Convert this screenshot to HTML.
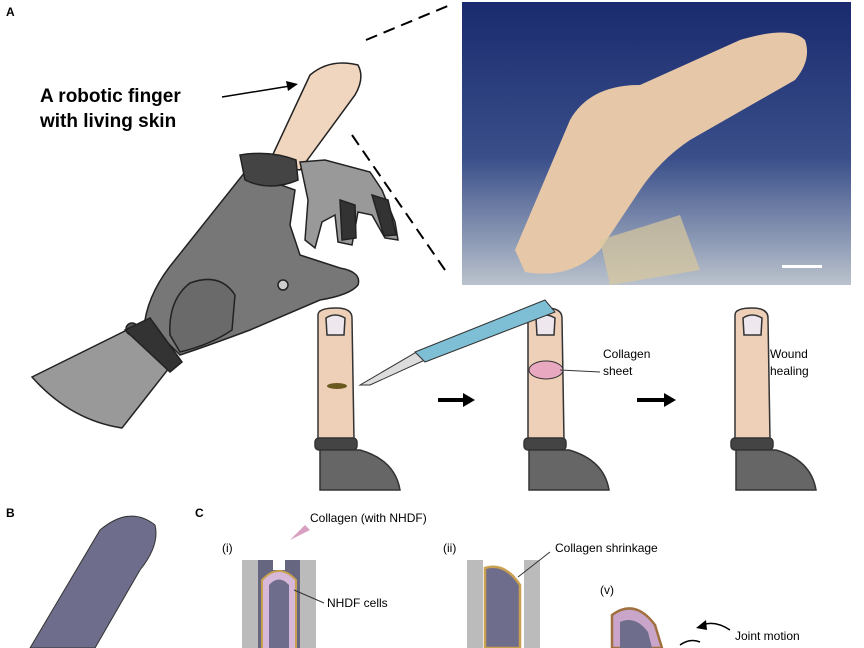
<!DOCTYPE html>
<html><head><meta charset="utf-8"><style>
body{margin:0;background:#fff;width:864px;height:648px;overflow:hidden;font-family:"Liberation Sans",sans-serif}
svg{display:block}
</style></head><body>
<svg width="864" height="648" viewBox="0 0 864 648" font-family="Liberation Sans, sans-serif">
<defs>
<linearGradient id="bg" x1="0" y1="0" x2="0" y2="1">
<stop offset="0" stop-color="#1a2a6e"/><stop offset="0.55" stop-color="#3a4f8a"/><stop offset="1" stop-color="#b9c2cc"/></linearGradient>
</defs>
<text x="6" y="16" font-size="12" font-weight="bold">A</text>
<text x="6" y="517" font-size="12" font-weight="bold">B</text>
<text x="195" y="517" font-size="12" font-weight="bold">C</text>
<!-- photo -->
<rect x="462" y="2" width="389" height="283" fill="url(#bg)"/>
<path d="M515 250 L570 120 Q590 85 640 85 L740 40 Q790 25 805 40 Q812 60 795 80 L690 140 Q660 160 640 190 L600 250 Q570 280 525 272 Z" fill="#e6c8a8"/>
<path d="M600 240 L680 215 L700 270 L610 285 Z" fill="#d8c89c" opacity=".7"/>
<rect x="782" y="265" width="40" height="3" fill="#fff"/>
<line x1="366" y1="40" x2="450" y2="5" stroke="#000" stroke-width="2" stroke-dasharray="12,7"/>
<line x1="352" y1="135" x2="445" y2="270" stroke="#000" stroke-width="2" stroke-dasharray="12,7"/>
<text x="40" y="102" font-size="19" font-weight="bold">A robotic finger</text>
<text x="40" y="127" font-size="19" font-weight="bold">with living skin</text>
<line x1="222" y1="97" x2="290" y2="86" stroke="#000" stroke-width="1.5"/>
<polygon points="298,84 286,81 288,91" fill="#000"/>
<!-- hand -->
<g stroke="#222" stroke-width="1.5">
<path d="M268 165 L310 75 Q330 58 358 65 Q365 78 355 95 L300 170 Z" fill="#f0d5bf"/>
<path d="M32 377 L127 330 L173 363 L122 428 Q70 420 32 377 Z" fill="#999"/>
<path d="M300 162 L325 160 L370 172 L382 190 L395 222 L398 240 L385 238 L372 215 L358 212 L352 245 L338 242 L335 215 L322 222 L315 248 L305 240 L308 200 Z" fill="#999"/>
<path d="M340 200 L355 205 L356 238 L342 240 Z" fill="#333"/>
<path d="M372 195 L388 200 L396 235 L384 236 Z" fill="#333"/>
<path d="M145 320 Q150 290 175 260 L245 172 L295 190 L290 225 L300 255 L340 268 Q362 272 358 285 Q350 295 320 300 L250 330 Q210 345 180 355 Z" fill="#777"/>
<path d="M240 155 Q270 150 296 160 L298 180 Q270 192 245 180 Z" fill="#444"/>
<path d="M170 335 Q168 300 190 283 Q220 272 235 295 L232 330 Q210 345 180 352 Z" fill="#6a6a6a"/>
<circle cx="283" cy="285" r="5" fill="#ccc"/>
<circle cx="132" cy="329" r="6" fill="#555"/>
<path d="M125 330 L150 318 L182 362 L170 372 Z" fill="#333"/>
</g>
<!-- small fingers -->
<g stroke="#333" stroke-width="1.5">
<path d="M318 315 Q318 308 336 308 Q352 308 352 318 L354 440 L318 440 Z" fill="#eecfb8"/>
<path d="M528 315 Q528 308 546 308 Q562 308 562 318 L564 440 L528 440 Z" fill="#eecfb8"/>
<path d="M735 315 Q735 308 752 308 Q768 308 768 318 L770 440 L735 440 Z" fill="#eecfb8"/>
<path d="M326 318 Q335 312 345 318 L344 335 L327 335 Z" fill="#eee8ee"/>
<path d="M536 318 Q545 312 555 318 L554 335 L537 335 Z" fill="#eee8ee"/>
<path d="M743 318 Q752 312 762 318 L761 335 L744 335 Z" fill="#eee8ee"/>
<rect x="315" y="438" width="42" height="12" rx="4" fill="#444"/>
<rect x="524" y="438" width="42" height="12" rx="4" fill="#444"/>
<rect x="731" y="438" width="42" height="12" rx="4" fill="#444"/>
<path d="M320 450 L360 450 Q395 460 400 490 L320 490 Z" fill="#666"/>
<path d="M529 450 L569 450 Q604 460 609 490 L529 490 Z" fill="#666"/>
<path d="M736 450 L776 450 Q811 460 816 490 L736 490 Z" fill="#666"/>
</g>
<ellipse cx="337" cy="386" rx="10" ry="3" fill="#6a5a20"/>
<ellipse cx="546" cy="370" rx="17" ry="9" fill="#e8a8c0" stroke="#333"/>
<path d="M360 385 L420 350 L425 360 L370 385 Z" fill="#ddd" stroke="#333"/>
<path d="M415 352 L545 300 L555 312 L425 362 Z" fill="#7fbfd6" stroke="#333"/>
<path d="M438 400 L465 400" stroke="#000" stroke-width="4"/><polygon points="475,400 463,393 463,407"/>
<path d="M637 400 L665 400" stroke="#000" stroke-width="4"/><polygon points="676,400 664,393 664,407"/>
<text x="603" y="358" font-size="12">Collagen</text><text x="603" y="375" font-size="12">sheet</text>
<line x1="600" y1="372" x2="560" y2="370" stroke="#333"/>
<text x="770" y="358" font-size="12">Wound</text><text x="770" y="375" font-size="12">healing</text>
<!-- B -->
<path d="M30 648 L100 530 Q130 505 155 525 Q160 545 140 570 L95 648 Z" fill="#6e6e8c" stroke="#333"/>
<!-- C -->
<text x="310" y="522" font-size="12">Collagen (with NHDF)</text>
<polygon points="290,540 305,525 310,530" fill="#d8a0c0"/>
<text x="222" y="552" font-size="12">(i)</text>
<text x="443" y="552" font-size="12">(ii)</text>
<text x="555" y="552" font-size="12">Collagen shrinkage</text>
<text x="327" y="607" font-size="12">NHDF cells</text>
<text x="600" y="594" font-size="12">(v)</text>
<text x="735" y="640" font-size="12">Joint motion</text>
<rect x="242" y="560" width="16" height="88" fill="#bbb"/>
<rect x="300" y="560" width="16" height="88" fill="#bbb"/>
<rect x="258" y="560" width="42" height="88" fill="#666680"/>
<path d="M262 648 L262 580 Q279 562 296 580 L296 648" fill="#d8b8d8" stroke="#c8a050" stroke-width="2"/>
<path d="M269 648 L269 585 Q279 574 289 585 L289 648 Z" fill="#6e6e8c"/>
<rect x="273" y="560" width="12" height="10" fill="#fff"/>
<line x1="294" y1="590" x2="324" y2="603" stroke="#333"/>
<rect x="467" y="560" width="16" height="88" fill="#bbb"/>
<rect x="524" y="560" width="16" height="88" fill="#bbb"/>
<path d="M485 648 L485 568 Q505 562 520 585 L520 648 Z" fill="#6e6e8c" stroke="#c8a050" stroke-width="2.5"/>
<line x1="518" y1="577" x2="550" y2="552" stroke="#333"/>
<path d="M612 648 L612 615 Q635 598 655 625 L662 648 Z" fill="#c9a6c9" stroke="#a07040" stroke-width="2.5"/>
<path d="M620 648 L620 622 Q635 615 648 632 L652 648 Z" fill="#6e6e8c"/>
<path d="M730 630 Q715 620 702 625" stroke="#000" stroke-width="1.5" fill="none"/>
<polygon points="696,628 706,620 707,630"/>
<path d="M680 645 Q690 638 700 642" stroke="#000" stroke-width="1.5" fill="none"/>
</svg>
</body></html>
